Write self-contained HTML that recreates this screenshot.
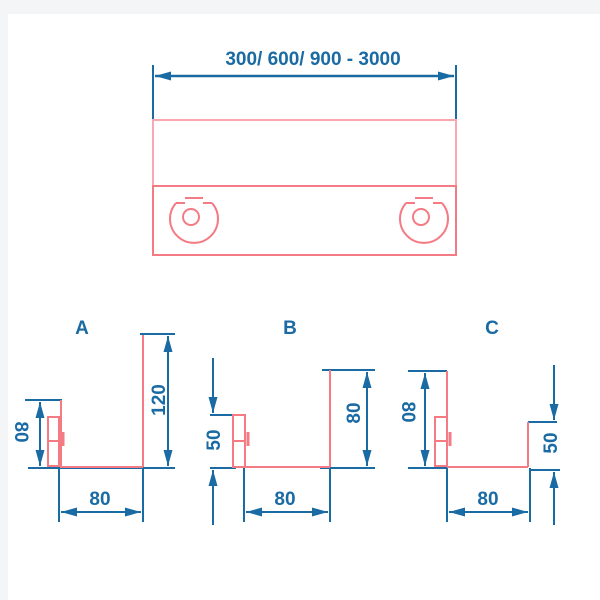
<html><body style="margin:0;background:#fff">
<svg width="600" height="600" viewBox="0 0 600 600" xmlns="http://www.w3.org/2000/svg" font-family="Liberation Sans, sans-serif" font-weight="bold">
<defs>
<marker id="a" viewBox="0 0 16 10" refX="16" refY="5" markerWidth="16" markerHeight="10" orient="auto-start-reverse" markerUnits="userSpaceOnUse"><path d="M0,0.5 L16,5 L0,9.5z" fill="#1a6aa3"/></marker>
</defs>
<rect x="0" y="0" width="600" height="14" fill="#f4f5f7"/>
<rect x="0" y="0" width="8" height="600" fill="#f4f5f7"/>
<g stroke="#1a6aa3" stroke-width="2" fill="none">
<line x1="153" y1="65" x2="153" y2="130"/><line x1="456" y1="65" x2="456" y2="130"/>
<line x1="155" y1="76" x2="454" y2="76" marker-start="url(#a)" marker-end="url(#a)" stroke-width="2.5"/>
<!-- A -->
<line x1="140" y1="334" x2="175" y2="334"/><line x1="28" y1="468" x2="175" y2="468"/>
<line x1="168" y1="336" x2="168" y2="466" marker-start="url(#a)" marker-end="url(#a)"/>
<line x1="25" y1="400" x2="62" y2="400"/>
<line x1="40" y1="402" x2="40" y2="466" marker-start="url(#a)" marker-end="url(#a)"/>
<line x1="59" y1="468" x2="59" y2="522"/><line x1="143" y1="468" x2="143" y2="522"/>
<line x1="61" y1="512" x2="141" y2="512" marker-start="url(#a)" marker-end="url(#a)"/>
<!-- B -->
<line x1="322" y1="370" x2="375" y2="370"/><line x1="320" y1="468" x2="375" y2="468"/>
<line x1="367" y1="372" x2="367" y2="466" marker-start="url(#a)" marker-end="url(#a)"/>
<line x1="210" y1="415" x2="236" y2="415"/><line x1="210" y1="468" x2="236" y2="468"/>
<line x1="213" y1="358" x2="213" y2="413" marker-end="url(#a)"/>
<line x1="213" y1="525" x2="213" y2="470" marker-end="url(#a)"/>
<line x1="244" y1="468" x2="244" y2="522"/><line x1="330" y1="468" x2="330" y2="522"/>
<line x1="246" y1="512" x2="328" y2="512" marker-start="url(#a)" marker-end="url(#a)"/>
<!-- C -->
<line x1="408" y1="371" x2="447" y2="371"/><line x1="408" y1="468" x2="447" y2="468"/>
<line x1="425" y1="373" x2="425" y2="466" marker-start="url(#a)" marker-end="url(#a)"/>
<line x1="528" y1="422" x2="557" y2="422"/><line x1="530" y1="470" x2="560" y2="470"/>
<line x1="554" y1="365" x2="554" y2="420" marker-end="url(#a)"/>
<line x1="554" y1="525" x2="554" y2="472" marker-end="url(#a)"/>
<line x1="447" y1="468" x2="447" y2="522"/><line x1="530" y1="468" x2="530" y2="522"/>
<line x1="449" y1="512" x2="528" y2="512" marker-start="url(#a)" marker-end="url(#a)"/>
</g>
<g stroke="#f47a84" stroke-width="2" fill="none">
<rect x="153" y="120" width="303" height="66" stroke="#f8a8ae"/>
<rect x="153" y="186" width="303" height="69"/>
<path d="M176,203 A24,24 0 1 0 212,203"/><circle cx="191" cy="217" r="8"/><line x1="176" y1="203" x2="185" y2="203"/><line x1="203" y1="203" x2="212" y2="203"/><line x1="185" y1="198" x2="203" y2="198"/>
<path d="M406,203 A24,24 0 1 0 442,203"/><circle cx="421" cy="217" r="8"/><line x1="406" y1="203" x2="415" y2="203"/><line x1="433" y1="203" x2="442" y2="203"/><line x1="415" y1="198" x2="433" y2="198"/>
<line x1="143" y1="335" x2="143" y2="467"/><line x1="60" y1="467" x2="143" y2="467"/>
<line x1="61" y1="400" x2="61" y2="467"/><rect x="48" y="417" width="11" height="49"/><line x1="48" y1="441" x2="59" y2="441"/><line x1="63" y1="432" x2="63" y2="446" stroke-width="3"/>
<line x1="330" y1="370" x2="330" y2="467"/><line x1="245" y1="467" x2="330" y2="467"/>
<rect x="233" y="415" width="12" height="52"/><line x1="233" y1="441" x2="245" y2="441"/><line x1="248" y1="432" x2="248" y2="446" stroke-width="3"/>
<line x1="447" y1="371" x2="447" y2="467"/><line x1="447" y1="467" x2="528" y2="467"/><line x1="528" y1="422" x2="528" y2="467"/>
<rect x="435" y="417" width="12" height="49"/><line x1="435" y1="441" x2="447" y2="441"/><line x1="450" y1="432" x2="450" y2="446" stroke-width="3"/>
</g>
<g fill="#1a6aa3" font-size="19">
<text x="313" y="65" text-anchor="middle">300/ 600/ 900 - 3000</text>
<text x="82" y="334" text-anchor="middle">A</text>
<text x="290" y="334" text-anchor="middle">B</text>
<text x="492" y="334" text-anchor="middle">C</text>
<text x="100" y="505" text-anchor="middle">80</text>
<text x="285" y="505" text-anchor="middle">80</text>
<text x="488" y="505" text-anchor="middle">80</text>
<text transform="translate(158,400) rotate(-90)" text-anchor="middle" dy="7">120</text>
<text transform="translate(353,413) rotate(-90)" text-anchor="middle" dy="7">80</text>
<text transform="translate(213,440) rotate(-90)" text-anchor="middle" dy="7">50</text>
<text transform="translate(550,443) rotate(-90)" text-anchor="middle" dy="7">50</text>
<text transform="translate(22,432) rotate(90)" text-anchor="middle" dy="7">80</text>
<text transform="translate(409,412) rotate(90)" text-anchor="middle" dy="7">80</text>
</g>
</svg>
</body></html>
